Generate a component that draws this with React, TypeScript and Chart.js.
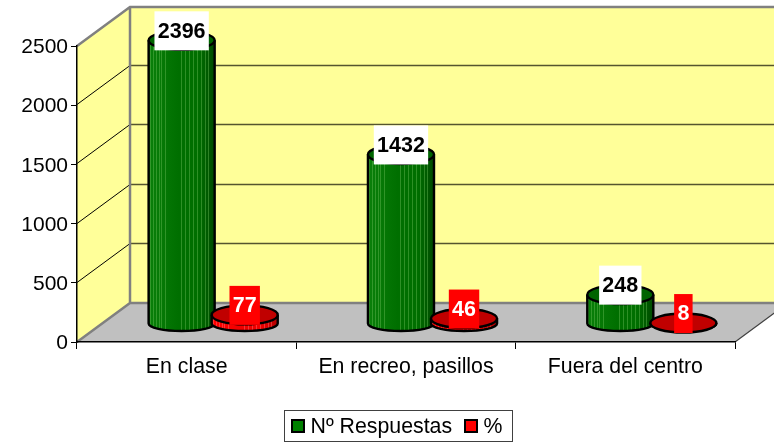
import React, { useEffect, useRef } from "react";
import { Chart, registerables } from "chart.js";

Chart.register(...registerables);

const categories = ["En clase", "En recreo, pasillos", "Fuera del centro"];
const respuestas = [2396, 1432, 248];
const porcentaje = [77, 46, 8];
const seriesNames = ["Nº Respuestas", "%"];
const yTicks = [0, 500, 1000, 1500, 2000, 2500];

const FONT = '"Liberation Sans", Arial, sans-serif';
const DX = 53;
const DY = 39;
const MID_X = 26.5;
const MID_Y = 18;
const RY = 7.5;
const RY_TOP = 9.5;
const WALL = "#FFFF99";
const FLOOR = "#C0C0C0";
const EDGE = "#808080";

const stripes = [-32, -29, -26, -23, -21, -17, -1, 3, 7, 11, 15, 19, 23, 26];

const themes = [
  { l: "#0A800A", m: "#006F00", r: "#004A00", top: "#006400", stripe: "rgba(110,190,90,0.42)", label: "#FFFFFF", text: "#000000", swatch: "#008000" },
  { l: "#FF0000", m: "#F00000", r: "#B00000", top: "#C00000", stripe: "rgba(255,130,130,0.4)", label: "#FF0000", text: "#FFFFFF", swatch: "#FF0000" },
];

const scene = {
  id: "scene",
  beforeDraw(chart: any) {
    const { ctx, scales } = chart;
    const y = scales.y;
    const { left, right } = chart.chartArea;
    const y0 = y.getPixelForValue(0);
    const yMax = y.getPixelForValue(2500);
    ctx.save();
    ctx.fillStyle = "#FFFFFF";
    ctx.fillRect(0, 0, chart.width, chart.height);

    // back wall
    ctx.fillStyle = WALL;
    ctx.fillRect(left + DX, yMax - DY, chart.width - left - DX, y0 - yMax);
    // left wall
    ctx.beginPath();
    ctx.moveTo(left, y0);
    ctx.lineTo(left, yMax);
    ctx.lineTo(left + DX, yMax - DY);
    ctx.lineTo(left + DX, y0 - DY);
    ctx.closePath();
    ctx.fill();
    // floor
    ctx.fillStyle = FLOOR;
    ctx.beginPath();
    ctx.moveTo(left, y0);
    ctx.lineTo(right, y0);
    ctx.lineTo(right + DX, y0 - DY);
    ctx.lineTo(left + DX, y0 - DY);
    ctx.closePath();
    ctx.fill();

    // gridlines
    yTicks.slice(1, -1).forEach((v) => {
      const p = Math.round(y.getPixelForValue(v)) - 0.5;
      ctx.strokeStyle = "#000000";
      ctx.lineWidth = 1;
      ctx.beginPath();
      ctx.moveTo(left, p);
      ctx.lineTo(left + DX, p - DY);
      ctx.stroke();
      ctx.strokeStyle = "#55552F";
      ctx.lineWidth = 1.5;
      ctx.beginPath();
      ctx.moveTo(left + DX, p - DY);
      ctx.lineTo(chart.width, p - DY);
      ctx.stroke();
    });

    // wall edges
    ctx.strokeStyle = EDGE;
    ctx.lineWidth = 2.5;
    ctx.beginPath();
    ctx.moveTo(left, yMax);
    ctx.lineTo(left + DX, yMax - DY);
    ctx.lineTo(chart.width, yMax - DY);
    ctx.moveTo(left + DX, yMax - DY);
    ctx.lineTo(left + DX, y0 - DY);
    ctx.moveTo(left, y0);
    ctx.lineTo(left + DX, y0 - DY);
    ctx.lineTo(chart.width, y0 - DY);
    ctx.stroke();
    ctx.strokeStyle = "#404040";
    ctx.lineWidth = 1.2;
    ctx.beginPath();
    ctx.moveTo(right, y0);
    ctx.lineTo(right + DX, y0 - DY);
    ctx.stroke();
    ctx.restore();
  },
  afterDatasetsDraw(chart: any) {
    const { ctx } = chart;
    ctx.save();
    categories.forEach((_, i) => {
      [0, 1].forEach((ds) => {
        const el = chart.getDatasetMeta(ds).data[i];
        const t = themes[ds];
        const cx = el.x + MID_X;
        const rx = el.width / 2 + 1.5;
        const top = el.y - MID_Y;
        const base = el.base - MID_Y;
        const grad = ctx.createLinearGradient(cx - rx, 0, cx + rx, 0);
        grad.addColorStop(0, t.l);
        grad.addColorStop(0.45, t.m);
        grad.addColorStop(0.75, t.m);
        grad.addColorStop(1, t.r);
        ctx.beginPath();
        ctx.moveTo(cx - rx, top);
        ctx.lineTo(cx - rx, base);
        ctx.ellipse(cx, base, rx, RY, 0, Math.PI, 0, true);
        ctx.lineTo(cx + rx, top);
        ctx.closePath();
        ctx.fillStyle = grad;
        ctx.fill();
        // vertical facets
        ctx.save();
        ctx.clip();
        ctx.strokeStyle = t.stripe;
        ctx.lineWidth = 1;
        stripes.forEach((s) => {
          ctx.beginPath();
          ctx.moveTo(Math.round(cx + s) + 0.5, top);
          ctx.lineTo(Math.round(cx + s) + 0.5, base + RY);
          ctx.stroke();
        });
        ctx.restore();
        // outline
        ctx.strokeStyle = "#000000";
        ctx.lineWidth = 2.4;
        ctx.beginPath();
        ctx.moveTo(cx - rx, top);
        ctx.lineTo(cx - rx, base);
        ctx.ellipse(cx, base, rx, RY, 0, Math.PI, 0, true);
        ctx.lineTo(cx + rx, top);
        ctx.stroke();
        ctx.beginPath();
        ctx.ellipse(cx, top, rx, RY_TOP, 0, 0, Math.PI * 2);
        ctx.fillStyle = t.top;
        ctx.fill();
        ctx.stroke();
      });
    });
    // value labels
    ctx.textAlign = "center";
    ctx.textBaseline = "middle";
    ctx.font = `bold 21.5px ${FONT}`;
    [0, 1].forEach((ds) => {
      const t = themes[ds];
      chart.getDatasetMeta(ds).data.forEach((el: any, i: number) => {
        const text = String(chart.data.datasets[ds].data[i]);
        const cx = el.x + MID_X;
        const cy = el.y - MID_Y - 9.5;
        const w = ctx.measureText(text).width + 6.5;
        const h = 39;
        ctx.fillStyle = t.label;
        ctx.fillRect(cx - w / 2, cy - h / 2, w, h);
        ctx.fillStyle = t.text;
        ctx.fillText(text, cx, cy + 1);
      });
    });
    // legend
    ctx.strokeStyle = "#404040";
    ctx.lineWidth = 1;
    ctx.strokeRect(284.5, 410.5, 228, 31);
    ctx.textAlign = "left";
    ctx.font = `21.3px ${FONT}`;
    const lx = [291, 464];
    chart.data.datasets.forEach((d: any, n: number) => {
      ctx.fillStyle = themes[n].swatch;
      ctx.fillRect(lx[n] + 1, 420, 12, 12);
      ctx.strokeStyle = "#000000";
      ctx.lineWidth = 2;
      ctx.strokeRect(lx[n] + 1, 420, 12, 12);
      ctx.fillStyle = "#000000";
      ctx.fillText(d.label, lx[n] + 19.5, 427);
    });
    ctx.restore();
  },
};

export default function App() {
  const ref = useRef<HTMLCanvasElement>(null);
  useEffect(() => {
    const chart = new Chart(ref.current!, {
      type: "bar",
      data: {
        labels: categories,
        datasets: [
          { label: seriesNames[0], data: respuestas, backgroundColor: "transparent", borderWidth: 0 },
          { label: seriesNames[1], data: porcentaje, backgroundColor: "transparent", borderWidth: 0 },
        ],
      },
      plugins: [scene],
      options: {
        responsive: false,
        animation: false,
        layout: { padding: { top: 46, right: 39, left: 0, bottom: 0 } },
        datasets: { bar: { categoryPercentage: 0.575, barPercentage: 1 } },
        plugins: { legend: { display: false }, title: { display: false }, tooltip: { enabled: false } },
        scales: {
          x: {
            afterFit(s: any) { s.height = 100; },
            grid: { drawOnChartArea: false, drawTicks: true, tickLength: 7, color: "#000000" },
            border: { display: true, color: "#000000", width: 1.5 },
            ticks: { color: "#000000", font: { family: FONT, size: 21.3 }, padding: 5, maxRotation: 0 },
          },
          y: {
            min: 0,
            max: 2500,
            afterFit(s: any) { s.width = 77; },
            afterBuildTicks(s: any) { s.ticks = yTicks.map((value) => ({ value })); },
            grid: { drawOnChartArea: false, drawTicks: true, tickLength: 6, color: "#000000" },
            border: { display: true, color: "#000000", width: 1.5 },
            ticks: { color: "#000000", font: { family: FONT, size: 21 }, padding: 3, labelOffset: 1.5, callback: (v: any) => String(v) },
          },
        },
      },
    } as any);
    return () => chart.destroy();
  }, []);
  return (
    <div style={{ position: "absolute", left: 0, top: 0, width: 774, height: 442 }}>
      <canvas ref={ref} width={774} height={442} style={{ display: "block" }} />
    </div>
  );
}
